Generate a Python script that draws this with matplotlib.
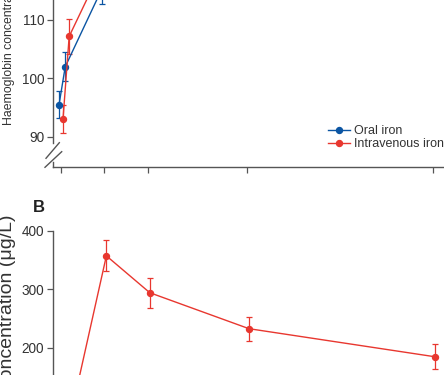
import matplotlib
matplotlib.use('Agg')
import matplotlib.pyplot as plt
from matplotlib.lines import Line2D

# haemoglobin (g/L), mean with error
hb_days = [0, 1, 7]
hb_oral = [95.5, 102.0, 115.5]
hb_oral_err = [2.3, 2.5, 2.7]
hb_iv = [93.0, 107.2, 120.5]
hb_iv_err = [2.4, 3.0, 3.0]

# ferritin (ug/L), intravenous group
fer_days = [0, 7, 14, 30, 60]
fer_iv = [25, 357, 294, 232.5, 184.5]
fer_iv_err = [5, 26.5, 25.5, 20.5, 21.5]

xticks = [0, 7, 14, 30, 60]
hb_ticks = [90, 100, 110]
fer_ticks = [200, 300, 400]

blue = '#0b55a3'
red = '#e8372f'
grey = '#555555'
dodge = 0.32

plt.rcParams['font.family'] = ['Liberation Sans', 'DejaVu Sans']
plt.rcParams['font.size'] = 9.8
plt.rcParams['text.color'] = '#333333'

W, H = 444, 375
fig = plt.figure(figsize=(W / 100, H / 100), dpi=100)

xlim = (-1.29, 64)
ax_w = (xlim[1] - xlim[0]) * 6.2 / W
ekw = dict(marker='o', ms=4.3, lw=1.0, elinewidth=0.9, capsize=2, capthick=0.9, zorder=3)

# panel A
axA = fig.add_axes([53 / W, 1 - 167 / H, ax_w, 234.75 / H])
axA.set_xlim(xlim)
axA.set_ylim(84.87, 125)
axA.errorbar([d - dodge for d in hb_days], hb_oral, yerr=hb_oral_err, color=blue, **ekw)
axA.errorbar([d + dodge for d in hb_days], hb_iv, yerr=hb_iv_err, color=red, **ekw)
axA.set_yticks(hb_ticks)
axA.set_xticks(xticks)
axA.set_xticklabels([])

# broken y axis
axA.spines['left'].set_bounds(88.97, 125)
kw = dict(transform=axA.transAxes, color=grey, lw=1.0, clip_on=False)
axA.plot([0, 0], [0, 0.0213], **kw)
axA.plot([-0.0173, 0.0156], [0.0371, 0.1035], **kw)
axA.plot([-0.0198, 0.0215], [-0.0013, 0.0652], **kw)

handles = [Line2D([], [], color=blue, marker='o', ms=4.3, lw=1.0),
           Line2D([], [], color=red, marker='o', ms=4.3, lw=1.0)]
axA.legend(handles, ['Oral iron', 'Intravenous iron'], loc='upper left',
           bbox_to_anchor=(328 / W, 1 - 125.5 / H), bbox_transform=fig.transFigure,
           frameon=False, handlelength=1.76, handletextpad=0.3, labelspacing=0.05,
           borderpad=0, borderaxespad=0, fontsize=9)

fig.text(15 / W, 1 - 125 / H, 'Haemoglobin concentration (g/L)', rotation=90,
         ha='right', va='bottom', fontsize=8.8)

# panel B
axB = fig.add_axes([53 / W, 1 - 464.7 / H, ax_w, 234 / H])
axB.set_xlim(xlim)
axB.set_ylim(0, 400)
axB.errorbar([d + dodge for d in fer_days], fer_iv, yerr=fer_iv_err, color=red, **ekw)
axB.set_yticks(fer_ticks)
axB.set_xticks(xticks)
axB.tick_params(labelbottom=False)

fig.text(16.5 / W, 1 - 214 / H, 'Serum ferritin concentration (\u03bcg/L)', rotation=90,
         ha='right', va='top', fontsize=14)
fig.text(33 / W, 1 - 212 / H, 'B', fontsize=12, fontweight='bold', color='#222222')

for ax in (axA, axB):
    for s in ('top', 'right'):
        ax.spines[s].set_visible(False)
    for s in ('left', 'bottom'):
        ax.spines[s].set_color(grey)
        ax.spines[s].set_linewidth(1.0)
    ax.tick_params(length=4.3, width=0.9, color=grey, pad=2, labelcolor='#333333',
                   labelsize=9.8)

fig.savefig('out.png', dpi=100)
